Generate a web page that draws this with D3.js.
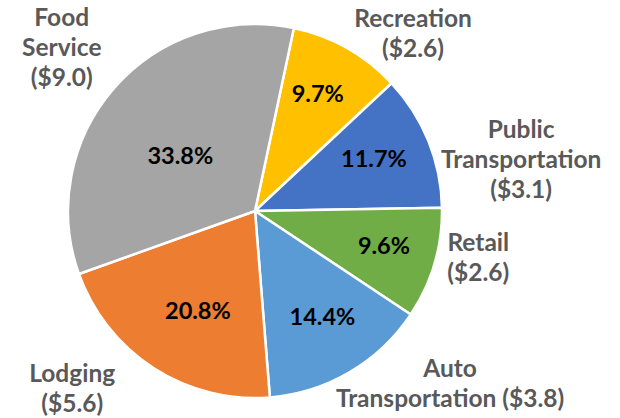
<!DOCTYPE html>
<html>
<head>
<meta charset="utf-8">
<script src="https://cdn.jsdelivr.net/npm/d3@7"></script>
<style>
body{margin:0;background:#fff;}
.outLabel{font-family:Lato,"Liberation Sans",sans-serif;font-weight:700;fill:#595959;}
.inLabel{font-family:Lato,"Liberation Sans",sans-serif;font-weight:700;fill:#000;}
</style>
</head>
<body>
<div id="chart"></div>
<script>
// data, in pie order (clockwise from the top)
var categories = ["Recreation","Public Transportation","Retail","Auto Transportation","Lodging","Food Service"];
var dollars = [2.6,3.1,2.6,3.8,5.6,9.0];
var percents = [9.7,11.7,9.6,14.4,20.8,33.8];
var labelLines = [["Recreation"],["Public","Transportation"],["Retail"],["Auto"],["Lodging"],["Food","Service"]];
var colors = ["#FFC000","#4472C4","#70AD47","#5B9BD5","#ED7D31","#A5A5A5"];

// where excel put the outside labels: angle (deg) and distance from the centre
var outAnchors = [[41.6,238],[79.1,271],[101.7,228],[131.4,260],[225.8,255],[310.2,253]];

var w = 620, h = 418;
var cx = 255, cy = 211, radius = 187;
var startDeg = 12;
var lineH = 30;

var svg = d3.select("#chart").append("svg")
  .attr("width",w)
  .attr("height",h);

var data = categories.map(function(c,i){
  return {name:c,dollar:dollars[i],pct:percents[i],lines:labelLines[i],col:colors[i],anchor:outAnchors[i]};
});

var pie = d3.pie()
  .sort(null)
  .value(function(d){return d.pct;})
  .startAngle(startDeg*Math.PI/180)
  .endAngle(startDeg*Math.PI/180+2*Math.PI);

var arc = d3.arc().innerRadius(0).outerRadius(radius);

var g = svg.append("g").attr("transform","translate("+cx+","+cy+")");

var slices = pie(data);

g.selectAll(".slice")
  .data(slices)
  .enter().append("path")
  .attr("class","slice")
  .attr("d",arc)
  .attr("fill",function(d){return d.data.col;})
  .attr("stroke","#fff")
  .attr("stroke-width",2.5)
  .attr("stroke-linejoin","round");

// percent labels inside, bigger slices get pulled in toward the centre
g.selectAll(".inLabel")
  .data(slices)
  .enter().append("text")
  .attr("class","inLabel")
  .attr("font-size","23.5px")
  .attr("text-anchor","middle")
  .attr("dy","0.35em")
  .attr("transform",function(d){
    var f = (d.endAngle-d.startAngle)/(2*Math.PI);
    var r = radius*(0.8-0.9*f);
    var a = (d.startAngle+d.endAngle)/2 - f*0.25;
    return "translate("+(r*Math.sin(a))+","+(-r*Math.cos(a))+")";
  })
  .text(function(d){return d.data.pct.toFixed(1)+"%";});

// category labels outside
var outs = g.selectAll(".outLabel")
  .data(slices)
  .enter().append("text")
  .attr("class","outLabel")
  .attr("font-size","24.5px")
  .attr("text-anchor","middle")
  .attr("transform",function(d){
    var a = d.data.anchor[0]*Math.PI/180, r = d.data.anchor[1];
    return "translate("+(r*Math.sin(a))+","+(r*Math.cos(a)*-1)+")";
  });

outs.each(function(d){
  var lines = d.data.lines.slice();
  var money = "($"+d.data.dollar.toFixed(1)+")";
  if(d.data.name==="Auto Transportation") lines.push("Transportation "+money);
  else lines.push(money);
  var n = lines.length;
  d3.select(this).selectAll("tspan")
    .data(lines)
    .enter().append("tspan")
    .attr("x",0)
    .attr("y",function(t,i){return (i-(n-1)/2)*lineH;})
    .attr("dy","0.35em")
    .text(String);
});
</script>
</body>
</html>
